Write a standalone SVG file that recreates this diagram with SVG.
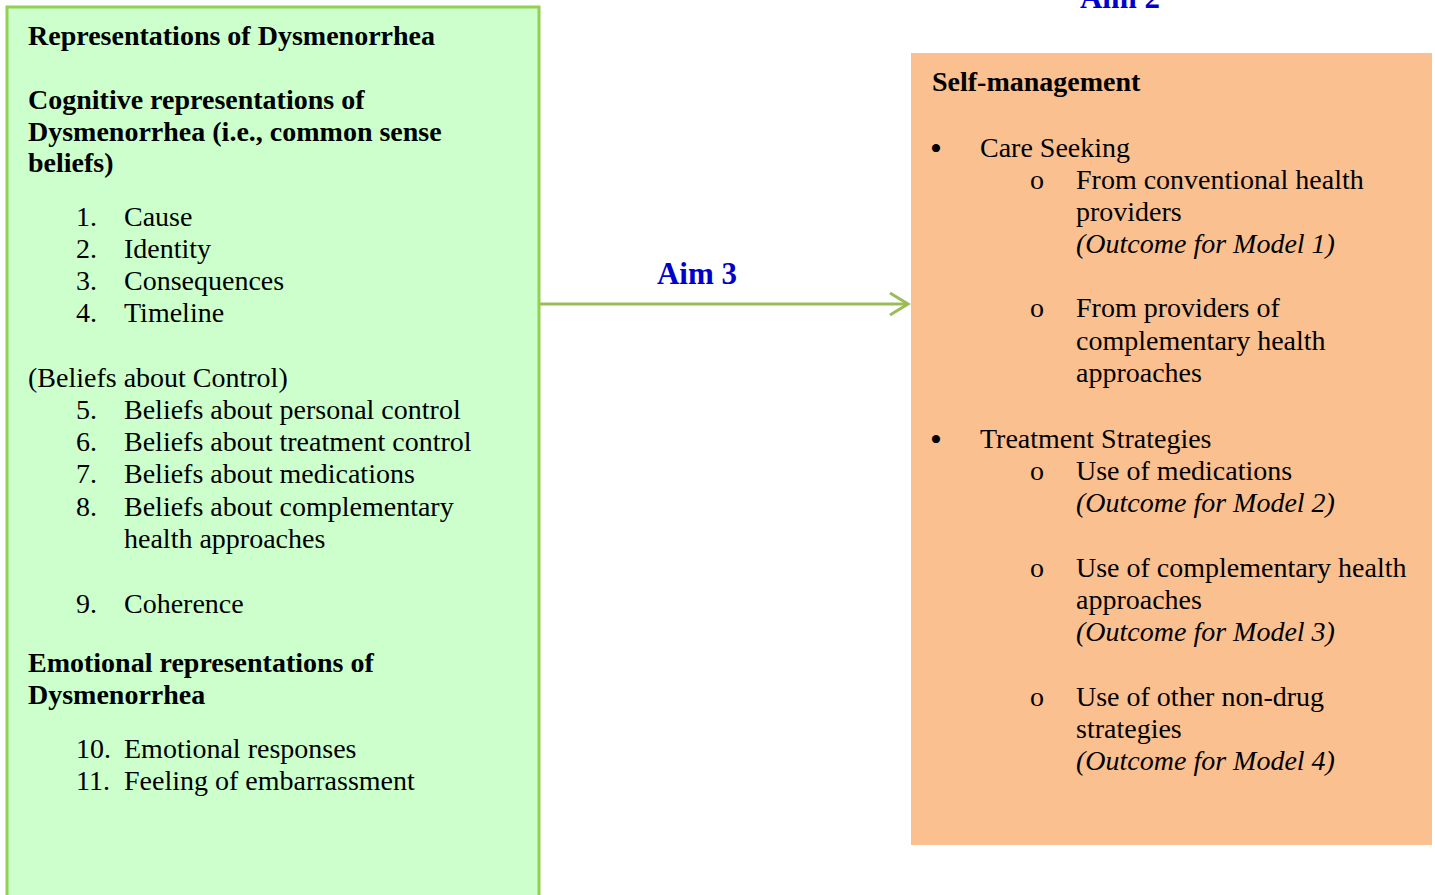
<svg xmlns="http://www.w3.org/2000/svg" width="1435" height="895" viewBox="0 0 1435 895">
<style>
text{font-family:"Liberation Serif","Times New Roman",serif;font-size:28px;fill:#000}
.b{font-weight:bold}
.i{font-style:italic}
.bul{font-size:34px}
.aim{font-weight:bold;fill:#0000CC;font-size:31px}
</style>
<defs>
<marker id="ah" markerWidth="24" markerHeight="26" refX="20" refY="13" orient="auto" markerUnits="userSpaceOnUse">
<path d="M2,2 L20,13 L2,24" fill="none" stroke="#9BBB59" stroke-width="3"/>
</marker>
</defs>
<rect width="1435" height="895" fill="#fff"/>
<g id="representations">
<rect x="7" y="7" width="532" height="900" fill="#CCFFCC" stroke="#92D050" stroke-width="3"/>
<g transform="translate(0,1)">
<text class="b" x="28" y="44">Representations of Dysmenorrhea</text>
<text class="b" x="28" y="108">Cognitive representations of</text>
<text class="b" x="28" y="140">Dysmenorrhea (i.e., common sense</text>
<text class="b" x="28" y="171">beliefs)</text>
<text x="76" y="225">1.</text><text x="124" y="225">Cause</text>
<text x="76" y="257">2.</text><text x="124" y="257">Identity</text>
<text x="76" y="289">3.</text><text x="124" y="289">Consequences</text>
<text x="76" y="321">4.</text><text x="124" y="321">Timeline</text>
<text x="28" y="386">(Beliefs about Control)</text>
<text x="76" y="418">5.</text><text x="124" y="418">Beliefs about personal control</text>
<text x="76" y="450">6.</text><text x="124" y="450">Beliefs about treatment control</text>
<text x="76" y="482">7.</text><text x="124" y="482">Beliefs about medications</text>
<text x="76" y="515">8.</text><text x="124" y="515">Beliefs about complementary</text>
<text x="124" y="547">health approaches</text>
<text x="76" y="612">9.</text><text x="124" y="612">Coherence</text>
<text class="b" x="28" y="671">Emotional representations of</text>
<text class="b" x="28" y="703">Dysmenorrhea</text>
<text x="76" y="757">10.</text><text x="124" y="757">Emotional responses</text>
<text x="76" y="789">11.</text><text x="124" y="789">Feeling of embarrassment</text>
</g>
</g>
<g id="self-management">
<rect x="911" y="53" width="521" height="792" fill="#FAC090"/>
<g transform="translate(0,1)">
<text class="b" x="932" y="90">Self-management</text>
<text class="bul" x="930" y="159">•</text><text x="980" y="156">Care Seeking</text>
<text x="1030" y="188">o</text><text x="1076" y="188">From conventional health</text>
<text x="1076" y="220">providers</text>
<text class="i" x="1076" y="252">(Outcome for Model 1)</text>
<text x="1030" y="316">o</text><text x="1076" y="316">From providers of</text>
<text x="1076" y="349">complementary health</text>
<text x="1076" y="381">approaches</text>
<text class="bul" x="930" y="450">•</text><text x="980" y="447">Treatment Strategies</text>
<text x="1030" y="479">o</text><text x="1076" y="479">Use of medications</text>
<text class="i" x="1076" y="511">(Outcome for Model 2)</text>
<text x="1030" y="576">o</text><text x="1076" y="576">Use of complementary health</text>
<text x="1076" y="608">approaches</text>
<text class="i" x="1076" y="640">(Outcome for Model 3)</text>
<text x="1030" y="705">o</text><text x="1076" y="705">Use of other non-drug</text>
<text x="1076" y="737">strategies</text>
<text class="i" x="1076" y="769">(Outcome for Model 4)</text>
</g>
</g>
<g id="connectors">
<line x1="540" y1="304" x2="908" y2="304" stroke="#9BBB59" stroke-width="3" marker-end="url(#ah)"/>
<text class="aim" x="697" y="284" text-anchor="middle">Aim 3</text>
<text class="aim" x="1120" y="8" text-anchor="middle">Aim 2</text>
</g>
</svg>
